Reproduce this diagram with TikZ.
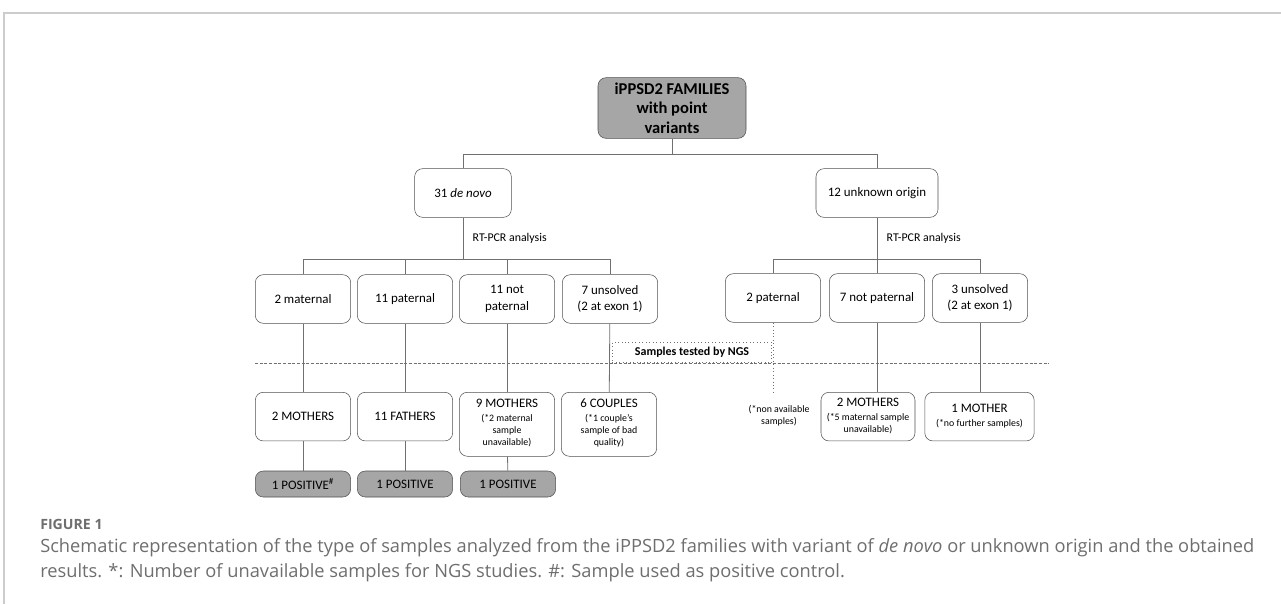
\documentclass[tikz,border=0pt]{standalone}
\usepackage{fontspec}
\setmainfont{Carlito}
\newfontfamily\capfont{Open Sans}
\usepackage{tikz}
\usetikzlibrary{calc}

\definecolor{boxline}{HTML}{505050}
\definecolor{linkgray}{HTML}{707070}
\definecolor{posgray}{HTML}{A6A6A6}
\definecolor{capgray}{HTML}{6E6E6E}
\definecolor{framegray}{HTML}{CCCCCC}

\newcommand{\smalltext}{\fontsize{7.4}{9}\selectfont}
\newcommand{\notelines}[1]{{\smalltext\begin{tabular}[t]{@{}c@{}}#1\end{tabular}}}

\begin{document}
\begin{tikzpicture}[x=0.75pt, y=-0.75pt,
  box/.style={draw=boxline, rounded corners=6pt, align=center, minimum width=71.5pt,
    minimum height=36.5pt, inner sep=1pt, font=\fontsize{9.7}{12.5}\selectfont},
  posbox/.style={box, fill=posgray, minimum height=19.5pt},
  link/.style={draw=linkgray, line width=0.6pt},
  ngs/.style={draw=linkgray, dotted, line width=0.6pt}]
\useasboundingbox (0,0) rectangle (1281,604);
% frame
\draw[framegray, line width=0.8pt] (4,604) -- (4,13) -- (1281,13);

% top
\path
(672,108) node[box, fill=posgray, minimum width=111pt, minimum height=45.5pt,
  font=\bfseries\fontsize{12.4}{14.5}\selectfont] (root) {iPPSD2 FAMILIES\\with point\\variants};
\path
(463,193) node[box, minimum width=72.5pt] (denovo) {31 \textit{de novo}};
\path
(877,193) node[box, minimum width=91.5pt] (unknown) {12 unknown origin};
\coordinate (bartop) at (672,154);
\draw[link] (root) -- (bartop);
\draw[link] (denovo.north) -- (denovo.north |- bartop) -- (unknown.north |- bartop) -- (unknown.north);

% RT-PCR level
\path
(468,238) node[anchor=west, font=\fontsize{8.9}{10}\selectfont] (rtleft) {RT-PCR analysis};
\path
(882,238) node[anchor=west, font=\fontsize{8.9}{10}\selectfont] (rtright) {RT-PCR analysis};
\path
(303,299) node[box] (mat) {2 maternal};
\path
(405,299) node[box] (pat) {11 paternal};
\path
(507,299) node[box] (notpat) {11 not\\paternal};
\path
(610,299) node[box] (unsolv) {7 unsolved\\(2 at exon 1)};
\path
(773,298) node[box] (patB) {2 paternal};
\path
(877,298) node[box] (notpatB) {7 not paternal};
\path
(980,298) node[box] (unsolvB) {3 unsolved\\(2 at exon 1)};
\coordinate (barleft) at (463,259);
\coordinate (barright) at (877,259);
\draw[link] (denovo) -- (barleft);
\draw[link] (mat.north) -- (mat.north |- barleft) -- (unsolv.north |- barleft) -- (unsolv.north);
\draw[link] (pat.north) -- (pat.north |- barleft);
\draw[link] (notpat.north) -- (notpat.north |- barleft);
\draw[link] (unknown) -- (barright);
\draw[link] (patB.north) -- (patB.north |- barright) -- (unsolvB.north |- barright) -- (unsolvB.north);
\draw[link] (notpatB.north) -- (notpatB.north |- barright);

% NGS line
\coordinate (dashL) at (255,363);
\coordinate (dashR) at (1049,363);
\draw[linkgray, dashed, dash pattern=on 2.2pt off 1.3pt, line width=0.5pt] (dashL) -- (dashR);
\path
(692,352.5) node[ngs, minimum width=119.5pt, minimum height=15.5pt, inner sep=0pt,
  font=\bfseries\fontsize{9}{10}\selectfont] (ngsbox) {Samples tested by NGS};

% samples
\path
(303,392) node[box, anchor=north] (mothA) {2 MOTHERS};
\path
(405,392) node[box, anchor=north] (fath) {11 FATHERS};
\path
(507,392) node[box, anchor=north, minimum height=48pt] (mothB)
  {9 MOTHERS\\[-2pt]\notelines{(*2 maternal\\sample\\unavailable)}};
\path
(609,392) node[box, anchor=north, minimum height=48pt] (coup)
  {6 COUPLES\\[-2pt]\notelines{(*1 couple’s\\sample of bad\\quality)}};
\path
(779,416) node[align=center, font=\smalltext] (nonavail) {(*non available\\samples)};
\path
(868,392) node[box, anchor=north, minimum width=70.5pt] (mothC)
  {2 MOTHERS\\[-2pt]\notelines{(*5 maternal sample\\unavailable)}};
\path
(979.5,392) node[box, anchor=north, minimum width=82pt] (moth1)
  {1 MOTHER\\[-2pt]\notelines{(*no further samples)}};
\draw[link] (mat) -- (mothA);
\draw[link] (pat) -- (fath);
\draw[link] (notpat) -- (mothB);
\draw[link] (unsolv) -- (coup);
\draw[ngs] (patB.south) -- (patB.south |- mothA.north);
\draw[link] (notpatB.south) -- (notpatB.south |- mothC.north);
\draw[link] (unsolvB.south) -- (unsolvB.south |- moth1.north);

% positives
\path
(303,484) node[posbox] (posA) {1 POSITIVE\textsuperscript{\#}};
\path
(405,484) node[posbox] (posB) {1 POSITIVE};
\path
(508,484) node[posbox] (posC) {1 POSITIVE};
\draw[link] (mothA) -- (posA);
\draw[link] (fath) -- (posB);
\draw[link] (mothB) -- (posC);

% caption
\path
(40,524) node[anchor=west, inner sep=0pt, text=capgray, font=\capfont\bfseries\fontsize{10.6}{12}\selectfont] (figlabel) {FIGURE 1};
\path
(40,548) node[anchor=west, inner sep=0pt, text=capgray, font=\capfont\fontsize{13.7}{16}\selectfont] (capone)
  {Schematic representation of the type of samples analyzed from the iPPSD2 families with variant of \textit{de novo} or unknown origin and the obtained};
\path
(40,573) node[anchor=west, inner sep=0pt, text=capgray, font=\capfont\fontsize{13.7}{16}\selectfont] (captwo)
  {results. *: Number of unavailable samples for NGS studies. \#: Sample used as positive control.};
\end{tikzpicture}
\end{document}
